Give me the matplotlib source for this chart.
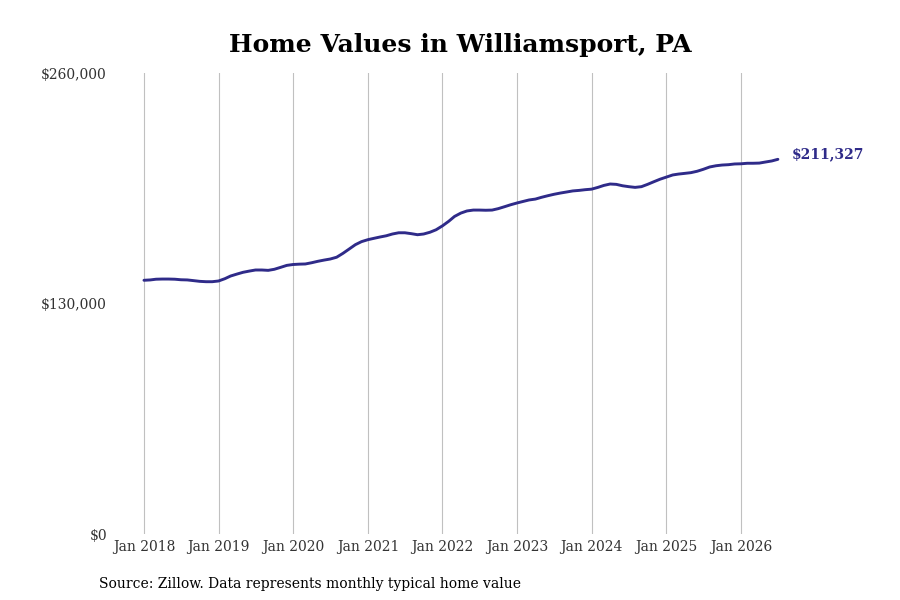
import numpy as np
import pandas as pd
from matplotlib import pyplot as plt
from matplotlib.ticker import FuncFormatter

# Monthly typical home value, Williamsport PA
values_2018 = [143100, 143300, 143700, 143800, 143800, 143700, 143400, 143300, 142900, 142500, 142300, 142300]
values_2019 = [142700, 144000, 145500, 146600, 147600, 148300, 148900, 148900, 148700, 149300, 150400, 151500]
values_2020 = [152000, 152200, 152300, 153000, 153800, 154500, 155100, 156100, 158300, 160700, 163200, 164900]
values_2021 = [166000, 166800, 167500, 168200, 169200, 169900, 169900, 169400, 168800, 169200, 170200, 171600]
values_2022 = [173800, 176400, 179100, 181000, 182200, 182700, 182700, 182600, 182700, 183500, 184600, 185700]
values_2023 = [186700, 187600, 188400, 188900, 189900, 190800, 191600, 192300, 192900, 193500, 193800, 194200]
values_2024 = [194500, 195500, 196600, 197400, 197200, 196400, 195900, 195500, 195900, 197200, 198700, 200100]
values_2025 = [201300, 202500, 203000, 203400, 203800, 204600, 205700, 207000, 207700, 208100, 208300, 208700]
values_2026 = [208800, 209100, 209100, 209200, 209800, 210400, 211327]

values = (values_2018 + values_2019 + values_2020 + values_2021 + values_2022
          + values_2023 + values_2024 + values_2025 + values_2026)
dates = pd.date_range('2018-01-01', periods=len(values), freq='MS')

tick_years = list(range(2018, 2027))
tick_dates = [pd.Timestamp(f'{y}-01-01') for y in tick_years]
tick_labels = [f'Jan {y}' for y in tick_years]
y_ticks = [0, 130000, 260000]

line_color = '#2f2b89'
plt.rcParams['font.family'] = ['DejaVu Serif']

fig = plt.figure(figsize=(9, 6), dpi=100)
ax = fig.add_axes([0.125, 0.11, 0.755, 0.7683])

ax.plot(dates, values, color=line_color, linewidth=2.1, solid_capstyle='round')
ax.annotate(f'${values[-1]:,}', xy=(dates[-1], values[-1]), xytext=(10, 4),
            textcoords='offset points', color=line_color, fontsize=10,
            fontweight='bold', va='center', ha='left')

ax.set_ylim(0, 260000)
ax.set_xlim(pd.Timestamp('2017-07-31'), pd.Timestamp('2026-09-08'))
ax.set_yticks(y_ticks)
ax.yaxis.set_major_formatter(FuncFormatter(lambda v, p: f'${v:,.0f}'))
ax.set_xticks(tick_dates)
ax.set_xticklabels(tick_labels)

ax.grid(axis='x', color='#c0c0c0', linewidth=0.8)
ax.grid(axis='y', visible=False)
for s in ax.spines.values():
    s.set_visible(False)
ax.tick_params(axis='both', length=0, labelsize=10, colors='#333333')
ax.tick_params(axis='x', pad=4)
ax.tick_params(axis='y', pad=4)

fig.suptitle('Home Values in Williamsport, PA', x=0.512, y=0.945,
             fontsize=18, fontweight='bold')
fig.text(0.11, 0.02, 'Source: Zillow. Data represents monthly typical home value',
         fontsize=10)

plt.savefig('out.png', dpi=100)
